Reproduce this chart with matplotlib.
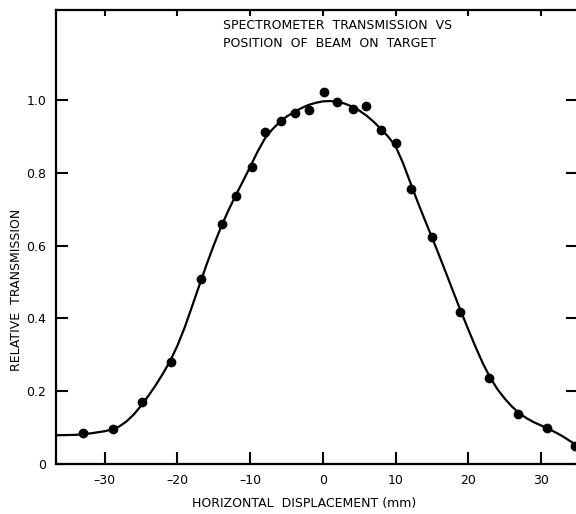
import numpy as np
import matplotlib
matplotlib.use("Agg")
import matplotlib.pyplot as plt

# measured points (mm, relative transmission)
disp = [-33.0, -28.9, -24.9, -20.9, -16.8, -13.9, -11.9, -9.8, -7.9, -5.7,
        -3.8, -1.9, 0.1, 2.0, 4.2, 6.0, 8.0, 10.0, 12.1, 15.0,
        18.9, 22.9, 26.9, 30.9, 34.7]
trans = [0.084, 0.095, 0.170, 0.281, 0.507, 0.659, 0.737, 0.817, 0.911, 0.943,
         0.963, 0.973, 1.022, 0.993, 0.974, 0.983, 0.918, 0.881, 0.755, 0.623,
         0.418, 0.236, 0.136, 0.100, 0.050]

curve_x = [-36.7, -34, -32, -30, -29, -28, -27, -26, -25, -24, -23, -22, -21, -20,
           -19, -18, -17, -16, -15, -14, -13, -12, -11, -10, -9, -8, -7, -6, -5,
           -4, -3, -2, -1, 0, 1, 2, 3, 4, 5, 6, 7, 8, 9, 10, 11, 12, 13, 14, 15,
           16, 17, 18, 19, 20, 21, 22, 23, 24, 25, 26, 27, 28, 29, 30, 31, 32,
           33, 34, 35.1]
curve_y = [0.079, 0.080, 0.084, 0.090, 0.095, 0.103, 0.117, 0.136, 0.160, 0.187,
           0.216, 0.248, 0.283, 0.325, 0.375, 0.432, 0.490, 0.547, 0.601, 0.651,
           0.696, 0.737, 0.776, 0.816, 0.857, 0.893, 0.918, 0.938, 0.954, 0.966,
           0.977, 0.986, 0.992, 0.996, 0.997, 0.995, 0.990, 0.982, 0.971, 0.957,
           0.940, 0.920, 0.899, 0.873, 0.828, 0.775, 0.722, 0.672, 0.623, 0.573,
           0.522, 0.470, 0.419, 0.370, 0.322, 0.277, 0.238, 0.206, 0.180, 0.158,
           0.140, 0.126, 0.115, 0.106, 0.097, 0.087, 0.076, 0.063, 0.049]

xticks = [-30, -20, -10, 0, 10, 20, 30]
yticks = [0, 0.2, 0.4, 0.6, 0.8, 1.0]
ylabels = ["0", "0.2", "0.4", "0.6", "0.8", "1.0"]

plt.rcParams['font.family'] = ['DejaVu Sans']
fig = plt.figure(figsize=(5.76, 5.14), dpi=100)
ax = fig.add_axes([56 / 576, 50 / 514, 522 / 576, 454 / 514])

ax.plot(curve_x, curve_y, color="black", lw=1.6)
ax.plot(disp, trans, "o", color="black", ms=6)

ax.set_xlim(-36.7, 35.1)
ax.set_ylim(0, 1.247)
ax.set_xticks(xticks)
ax.set_xticklabels([str(t).replace("-", "\u2013") for t in xticks], fontsize=9)
ax.set_yticks(yticks)
ax.set_yticklabels(ylabels, fontsize=9)

for s in ["left", "bottom", "top", "right"]:
    ax.spines[s].set_linewidth(1.6)

ax.tick_params(axis="both", which="major", direction="in", width=1.5, length=8.5,
               pad=7, top=True, right=True)
for t in ax.xaxis.get_major_ticks():
    t.tick2line.set_markersize(4)

# axis titles placed by figure pixels
fig.text(304 / 576, 1 - 504 / 514, "HORIZONTAL  DISPLACEMENT (mm)", fontsize=9,
         ha="center", va="center")
fig.text(17 / 576, 1 - 290 / 514, "RELATIVE  TRANSMISSION", fontsize=9,
         ha="center", va="center", rotation=90)

ax.text(-13.7, 1.205, "SPECTROMETER  TRANSMISSION  VS", fontsize=9, ha="left", va="center")
ax.text(-13.7, 1.155, "POSITION  OF  BEAM  ON  TARGET", fontsize=9, ha="left", va="center")

fig.savefig("out.png", dpi=100)
